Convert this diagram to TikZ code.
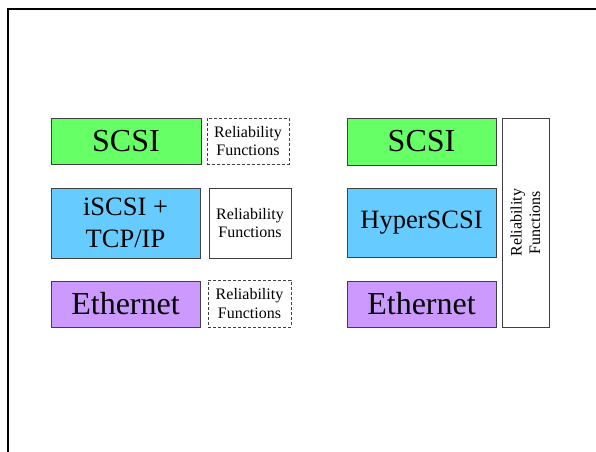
\documentclass[tikz,border=0pt]{standalone}
\usepackage{fontspec}
\setmainfont{Liberation Serif}
\definecolor{scsigreen}{HTML}{66FF66}
\definecolor{transblue}{HTML}{66CCFF}
\definecolor{linkpurple}{HTML}{CC99FF}
\tikzset{
  layer/.style={draw=black!75, line width=0.8pt, inner sep=0pt, align=center},
  big/.style={font=\fontsize{32}{36}\selectfont},
  mid/.style={font=\fontsize{26.5}{31.5}\selectfont},
  relbox/.style={draw=black!75, line width=0.8pt, fill=white, inner sep=0pt,
    align=center, font=\fontsize{16}{18.5}\selectfont},
  reldash/.style={relbox, dash pattern=on 3pt off 2pt}
}
\begin{document}
\begin{tikzpicture}[x=1pt,y=-1pt]
\useasboundingbox (0,0) rectangle (596,451);
% slide frame
\draw[line width=2pt] (598,9) -- (8,9) -- (8,453);

% iSCSI stack
\node[layer, big, fill=scsigreen, minimum width=150, minimum height=46] (scsiL) at (126,141) {SCSI};
\node[reldash, minimum width=82, minimum height=46] (relA) at (248,141) {Reliability\\Functions};
\node[layer, mid, fill=transblue, minimum width=149, minimum height=70] (iscsi) at (125.5,223) {iSCSI +\\TCP/IP};
\node[relbox, minimum width=82, minimum height=70] (relB) at (250,223) {Reliability\\Functions};
\node[layer, big, fill=linkpurple, minimum width=149, minimum height=46] (ethL) at (125.5,304) {Ethernet};
\node[reldash, minimum width=83, minimum height=47] (relC) at (249.5,303.5) {Reliability\\Functions};

% HyperSCSI stack
\node[layer, big, fill=scsigreen, minimum width=149, minimum height=47] (scsiR) at (421.5,141.5) {SCSI};
\node[layer, mid, fill=transblue, minimum width=149, minimum height=69] (hyper) at (421.5,222.5) {HyperSCSI};
\node[layer, big, fill=linkpurple, minimum width=149, minimum height=46] (ethR) at (421.5,304) {Ethernet};
\node[relbox, rotate=90, minimum width=209, minimum height=47] (relV) at (525.5,222.5) {Reliability\\Functions};
\end{tikzpicture}
\end{document}
